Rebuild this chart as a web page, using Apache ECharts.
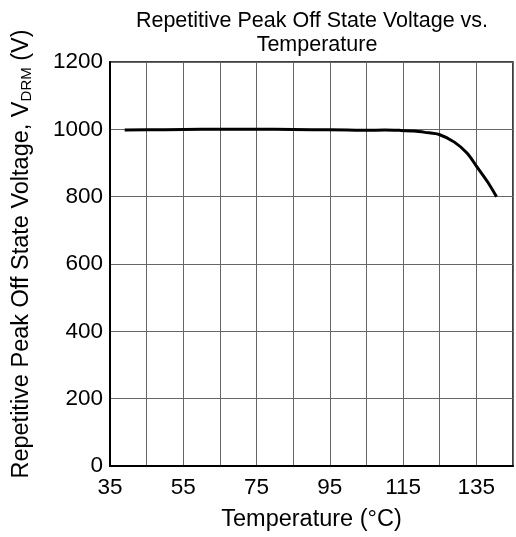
<!DOCTYPE html>
<html>
<head>
<meta charset="utf-8">
<script src="https://cdn.jsdelivr.net/npm/echarts@6/dist/echarts.min.js"></script>
<style>
  html, body { margin: 0; padding: 0; background: #fff; }
  #chart { width: 516px; height: 537px; }
</style>
</head>
<body>
<div id="chart"></div>
<script>
// Blocking voltage derating curve
const temperatures = [39, 50, 60, 70, 80, 90, 100, 105, 110, 114, 118, 121, 125, 129, 132.5, 135, 138, 140.5];
const voltages     = [998, 999, 1000, 1000, 1000, 999, 998, 997, 998, 997, 995, 991, 984, 962, 929, 891, 845, 800];
const xTicks = [35, 55, 75, 95, 115, 135];
const yTicks = [0, 200, 400, 600, 800, 1000, 1200];

const FONT = 'Liberation Sans, Arial, sans-serif';
const chart = echarts.init(document.getElementById('chart'), null, { renderer: 'canvas' });

const points = temperatures.map((t, i) => [t, voltages[i]]);

chart.setOption({
  animation: false,
  backgroundColor: '#ffffff',
  textStyle: { fontFamily: FONT, color: '#000' },
  graphic: [
    {
      type: 'text', x: 312, y: 21,
      style: { text: 'Repetitive Peak Off State Voltage vs.', font: '21.5px ' + FONT, fill: '#000', textAlign: 'center', textVerticalAlign: 'middle' }
    },
    {
      type: 'text', x: 317, y: 45,
      style: { text: 'Temperature', font: '21.5px ' + FONT, fill: '#000', textAlign: 'center', textVerticalAlign: 'middle' }
    }
  ],
  grid: { left: 110, right: 3, top: 62, bottom: 71, show: true, borderColor: '#000', borderWidth: 1.5 },
  xAxis: {
    type: 'value',
    min: 35, max: 145, interval: 10,
    name: 'Temperature (°C)',
    nameLocation: 'middle',
    nameGap: 42,
    nameTextStyle: { fontSize: 23.5, color: '#000', fontFamily: FONT },
    axisLine: { show: true, onZero: false, lineStyle: { color: '#000', width: 2 } },
    axisTick: { show: false },
    splitLine: { show: true, lineStyle: { color: '#666', width: 1 } },
    axisLabel: {
      fontSize: 22.5, color: '#000', margin: 10, fontFamily: FONT,
      formatter: v => xTicks.includes(v) ? String(v) : ''
    }
  },
  yAxis: {
    type: 'value',
    min: 0, max: 1200, interval: 200,
    name: 'Repetitive Peak Off State Voltage, V{sub|DRM} (V)',
    nameLocation: 'middle',
    nameGap: 76,
    nameRotate: 90,
    nameTextStyle: {
      fontSize: 23.5, color: '#000', fontFamily: FONT,
      padding: [0, 0, 0, 20],
      rich: { sub: { fontSize: 15, color: '#000', fontFamily: FONT, padding: [10, 0, 0, 0] } }
    },
    axisLine: { show: true, lineStyle: { color: '#000', width: 2 } },
    axisTick: { show: false },
    splitLine: { show: true, lineStyle: { color: '#666', width: 1 } },
    axisLabel: {
      fontSize: 22.5, color: '#000', margin: 7, fontFamily: FONT,
      formatter: v => yTicks.includes(v) ? String(v) : ''
    }
  },
  series: [{
    type: 'line',
    data: points,
    smooth: 0.3,
    showSymbol: false,
    lineStyle: { color: '#000', width: 3 },
    z: 5
  }]
});
</script>
</body>
</html>
